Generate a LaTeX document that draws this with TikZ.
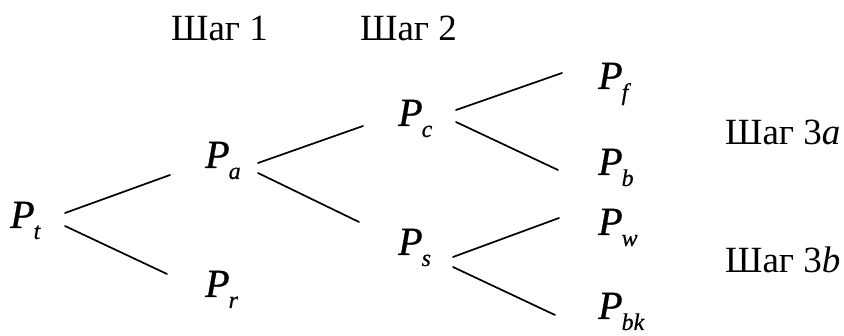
\documentclass[tikz,border=0pt]{standalone}
\usepackage{fontspec}
\setmainfont{Liberation Serif}
\newfontface\pface{Liberation Serif Italic}[FakeBold=0.9]
\newfontface\subface{Liberation Serif Italic}[FakeBold=0.5]
\newcommand{\pfnt}{\fontsize{40}{40}\selectfont\pface}
\newcommand{\subfnt}{\fontsize{24}{24}\selectfont\subface}
\newcommand{\stepfnt}{\fontsize{37}{37}\selectfont}
\newcommand{\PP}[1]{{\pfnt P}\kern-1pt\raisebox{-11pt}{\subfnt #1}}
\begin{document}
\begin{tikzpicture}[x=1pt,y=-1pt,
  pnode/.style={inner sep=0pt,anchor=base west},
  stepnode/.style={inner sep=0pt,anchor=base west,font=\stepfnt},
  branch/.style={line width=1.7pt,line cap=round}]
\useasboundingbox (0,0) rectangle (844,336);
% step labels
\node[stepnode] (s1) at (171,41) {Шаг 1};
\node[stepnode] (s2) at (360,41) {Шаг 2};
\node[stepnode] (s3a) at (725,145) {Шаг 3{\itshape a}};
\node[stepnode] (s3b) at (725,273) {Шаг 3{\itshape b}};
% nodes
\node[pnode] (Pt) at (10,228) {\PP{t}};
\node[pnode] (Pa) at (205,168) {\PP{a}};
\node[pnode] (Pr) at (205,297) {\PP{r}};
\node[pnode] (Pc) at (398,126) {\PP{c}};
\node[pnode] (Ps) at (398,255) {\PP{s}};
\node[pnode] (Pf) at (598,89) {\PP{f}};
\node[pnode] (Pb) at (598,175) {\PP{b}};
\node[pnode] (Pw) at (598,235) {\PP{w}};
\node[pnode] (Pbk) at (598,319) {\PP{bk}};
% connectors
\draw[branch] ([shift={(55,-15)}]Pt.base west) -- ([shift={(-35,7)}]Pa.base west);
\draw[branch] ([shift={(55,-2)}]Pt.base west) -- ([shift={(-38,-23)}]Pr.base west);
\draw[branch] ([shift={(53,-5)}]Pa.base west) -- ([shift={(-35,0)}]Pc.base west);
\draw[branch] ([shift={(53,5)}]Pa.base west) -- ([shift={(-39,-33)}]Ps.base west);
\draw[branch] ([shift={(58,-16)}]Pc.base west) -- ([shift={(-36,-16)}]Pf.base west);
\draw[branch] ([shift={(58,-4)}]Pc.base west) -- ([shift={(-40,-5)}]Pb.base west);
\draw[branch] ([shift={(55,2)}]Ps.base west) -- ([shift={(-39,-17)}]Pw.base west);
\draw[branch] ([shift={(55,12)}]Ps.base west) -- ([shift={(-43,-4)}]Pbk.base west);
\end{tikzpicture}
\end{document}
